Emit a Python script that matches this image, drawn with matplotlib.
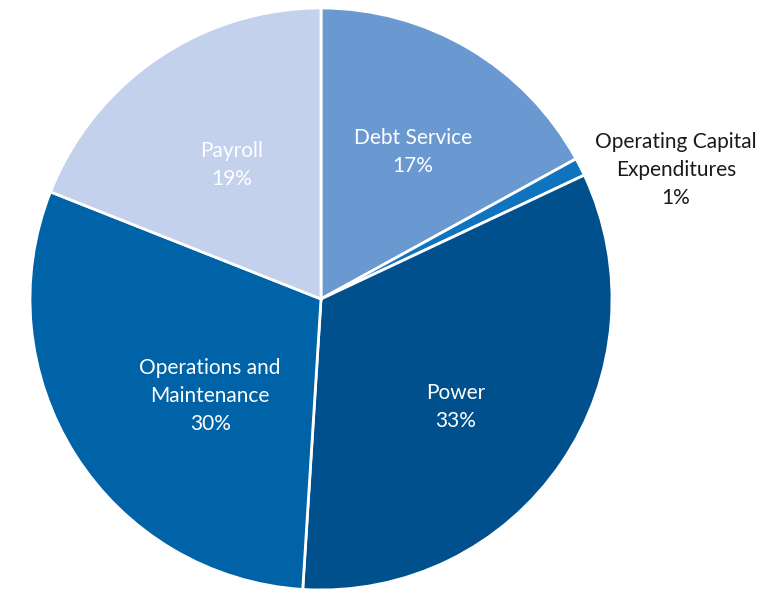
import matplotlib
matplotlib.use("Agg")
import matplotlib.pyplot as plt
import numpy as np

categories = ["Debt Service", "Operating Capital\nExpenditures", "Power",
              "Operations and\nMaintenance", "Payroll"]
values = [17, 1, 33, 30, 19]
colors = ["#6a98d0", "#0f74bd", "#00508e", "#0062a7", "#c3d1ec"]
text_colors = ["white", "#1a1a1a", "white", "white", "white"]

plt.rcParams['font.family'] = ['Lato', 'DejaVu Sans']

W, H = 774, 591
fig = plt.figure(figsize=(W / 100, H / 100), dpi=100)
cx, cy, r = 321, 299, 291
ax = fig.add_axes([(cx - r) / W, (H - cy - r) / H, 2 * r / W, 2 * r / H])
wedges, _ = ax.pie(values, colors=colors, startangle=90, counterclock=False,
                   wedgeprops=dict(edgecolor="white", linewidth=2))
ax.set_xlim(-1, 1)
ax.set_ylim(-1, 1)
ax.set_aspect("equal")
ax.axis("off")

# label radius factor and angular nudge (degrees) per wedge
dist = [0.596, 1.22, 0.594, 0.506, 0.553]
nudge = [-1.4, 0, -4.5, 8.8, -0.6]
for w, cat, v, tc, d, n in zip(wedges, categories, values, text_colors, dist, nudge):
    ang = np.deg2rad((w.theta1 + w.theta2) / 2 + n)
    x, y = d * np.cos(ang), d * np.sin(ang)
    if v < 5:
        x = 1.22
        y = 0.443
    ax.text(x, y, f"{cat}\n{v}%", ha="center", va="center", color=tc,
            fontsize=15, linespacing=1.5, clip_on=False)

fig.savefig("out.png", dpi=100)
